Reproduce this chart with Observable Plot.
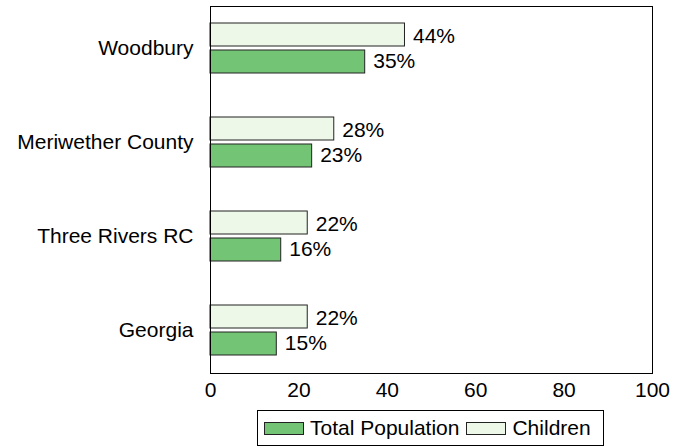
<!DOCTYPE html>
<html>
<head>
<meta charset="utf-8">
<script src="https://cdn.jsdelivr.net/npm/d3@7"></script>
<script src="https://cdn.jsdelivr.net/npm/@observablehq/plot@0.6"></script>
<style>
  html, body { margin: 0; padding: 0; background: #fff; }
  body { width: 686px; height: 448px; overflow: hidden; font-family: "Liberation Sans", Arial, sans-serif; }
  #legend {
    box-sizing: border-box;
    margin-left: 257px; margin-top: 5px;
    width: 347px; height: 36px;
    border: 1px solid #000;
    display: flex; align-items: center;
    padding-left: 6px;
    font-size: 21px; color: #000;
  }
  .sw { box-sizing: border-box; width: 40px; height: 13px; border: 1px solid #222; display: inline-block; }
  .lab { margin-left: 6px; }
</style>
</head>
<body>
<div id="chart"></div>
<div id="legend"></div>
<script>
const categories = ["Woodbury", "Meriwether County", "Three Rivers RC", "Georgia"];
const totalPopulation = [35, 23, 16, 15];
const children = [44, 28, 22, 22];
const xTicks = [0, 20, 40, 60, 80, 100];
const seriesNames = ["Total Population", "Children"];
const seriesColors = ["#74c476", "#edf8e9"];

const totalData = categories.map((c, i) => ({category: c, value: totalPopulation[i]}));
const childData = categories.map((c, i) => ({category: c, value: children[i]}));

const chart = Plot.plot({
  width: 686,
  height: 405,
  marginLeft: 210,
  marginRight: 34,
  marginTop: 6,
  marginBottom: 32,
  style: {fontFamily: "'Liberation Sans', Arial, sans-serif", fontSize: "21px", color: "#000", background: "#fff"},
  x: {domain: [0, 100], ticks: xTicks, tickSize: 0, tickPadding: 9, label: null},
  y: {domain: categories, paddingInner: 0.468, paddingOuter: 0.186, tickSize: 0, tickPadding: 17, label: null},
  marks: [
    Plot.barX(childData, {x: "value", y: "category", fill: seriesColors[1], stroke: "#222", strokeWidth: 1, insetBottom: 27}),
    Plot.barX(totalData, {x: "value", y: "category", fill: seriesColors[0], stroke: "#222", strokeWidth: 1, insetTop: 27}),
    Plot.text(childData, {x: "value", y: "category", text: d => d.value + "%", textAnchor: "start", dx: 8, dy: -12, fontSize: 21, fill: "#000"}),
    Plot.text(totalData, {x: "value", y: "category", text: d => d.value + "%", textAnchor: "start", dx: 8, dy: 13, fontSize: 21, fill: "#000"}),
    Plot.frame({stroke: "#000", strokeWidth: 1})
  ]
});
document.getElementById("chart").appendChild(chart);

const legend = document.getElementById("legend");
seriesNames.forEach((name, i) => {
  const sw = document.createElement("span");
  sw.className = "sw";
  sw.style.background = seriesColors[i];
  if (i > 0) sw.style.marginLeft = "7px";
  const lab = document.createElement("span");
  lab.className = "lab";
  lab.textContent = name;
  legend.appendChild(sw);
  legend.appendChild(lab);
});
</script>
</body>
</html>
